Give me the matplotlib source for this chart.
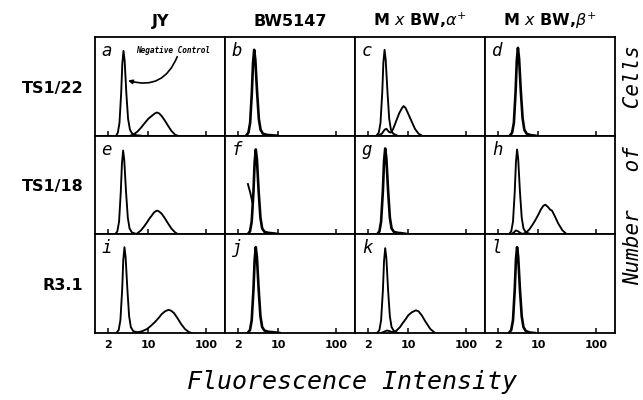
import matplotlib
matplotlib.use("Agg")
import matplotlib.pyplot as plt
from matplotlib.ticker import FixedLocator, NullLocator

COLUMNS = ["JY", "BW5147", r"M $x$ BW,$\alpha^{+}$", r"M $x$ BW,$\beta^{+}$"]
ROWS = ["TS1/22", "TS1/18", "R3.1"]
LETTERS = ["a", "b", "c", "d", "e", "f", "g", "h", "i", "j", "k", "l"]
XTICKS = [2, 10, 100]
XTICK_LABELS = ["2", "10", "100"]

# negative control peaks (fluorescence, relative cell count)
A_NEG_X = [2.8, 3.0, 3.2, 3.42, 3.58, 3.75, 3.93, 4.2, 4.5, 4.85, 5.3, 6.2, 7.5]
A_NEG_Y = [0, 0.03, 0.13, 0.43, 0.73, 0.86, 0.76, 0.43, 0.17, 0.06, 0.02, 0.005, 0]
B_NEG_X = [2.79, 3.06, 3.28, 3.51, 3.68, 3.85, 4.03, 4.32, 4.63, 4.96, 5.44, 6.4, 7.7, 9.5]
B_NEG_Y = [0, 0.03, 0.13, 0.44, 0.74, 0.87, 0.77, 0.44, 0.17, 0.06, 0.02, 0.008, 0.004, 0]
C_NEG_X = [2.82, 3.1, 3.32, 3.56, 3.72, 3.9, 4.08, 4.38, 4.69, 5.02, 5.5, 6.5]
C_NEG_Y = [0, 0.03, 0.13, 0.44, 0.74, 0.87, 0.77, 0.44, 0.17, 0.06, 0.02, 0]
D_NEG_X = [3.22, 3.53, 3.79, 4.06, 4.25, 4.45, 4.66, 4.99, 5.35, 5.73, 6.29, 7.4, 8.9]
D_NEG_Y = [0, 0.03, 0.13, 0.45, 0.76, 0.89, 0.78, 0.45, 0.18, 0.06, 0.02, 0.005, 0]
E_NEG_X = [2.68, 2.94, 3.15, 3.37, 3.53, 3.7, 3.87, 4.15, 4.45, 4.77, 5.23, 6.1, 7.0]
E_NEG_Y = [0, 0.03, 0.13, 0.43, 0.72, 0.85, 0.75, 0.43, 0.17, 0.06, 0.02, 0.005, 0]
F_NEG_X = [2.97, 3.26, 3.49, 3.74, 3.92, 4.1, 4.29, 4.6, 4.93, 5.28, 5.79, 6.8, 8.2, 10.8]
F_NEG_Y = [0, 0.03, 0.13, 0.43, 0.73, 0.86, 0.76, 0.43, 0.17, 0.06, 0.025, 0.015, 0.01, 0]
G_NEG_X = [2.9, 3.18, 3.4, 3.65, 3.82, 4.0, 4.19, 4.49, 4.81, 5.15, 5.65, 6.6, 8.0, 10.2]
G_NEG_Y = [0, 0.03, 0.13, 0.44, 0.74, 0.87, 0.77, 0.44, 0.17, 0.06, 0.025, 0.015, 0.01, 0]
H_NEG_X = [3.11, 3.41, 3.66, 3.92, 4.11, 4.3, 4.5, 4.82, 5.17, 5.54, 6.08, 7.1, 8.6]
H_NEG_Y = [0, 0.03, 0.13, 0.43, 0.73, 0.86, 0.76, 0.43, 0.17, 0.06, 0.02, 0.005, 0]
I_NEG_X = [2.82, 3.1, 3.32, 3.56, 3.72, 3.9, 4.08, 4.38, 4.69, 5.02, 5.5, 6.5, 8.0]
I_NEG_Y = [0, 0.03, 0.13, 0.44, 0.74, 0.87, 0.77, 0.44, 0.17, 0.06, 0.02, 0.005, 0]
J_NEG_X = [2.97, 3.26, 3.49, 3.74, 3.92, 4.1, 4.29, 4.6, 4.93, 5.28, 5.79, 6.8, 8.2, 10.5]
J_NEG_Y = [0, 0.03, 0.13, 0.44, 0.74, 0.87, 0.77, 0.44, 0.17, 0.06, 0.025, 0.012, 0.008, 0]
K_NEG_X = [2.9, 3.18, 3.4, 3.65, 3.82, 4.0, 4.19, 4.49, 4.81, 5.15, 5.65, 6.6]
K_NEG_Y = [0, 0.03, 0.13, 0.43, 0.73, 0.86, 0.76, 0.43, 0.17, 0.06, 0.02, 0]
L_NEG_X = [3.11, 3.41, 3.66, 3.92, 4.11, 4.3, 4.5, 4.82, 5.17, 5.54, 6.08, 7.1, 8.6]
L_NEG_Y = [0, 0.03, 0.13, 0.44, 0.74, 0.87, 0.77, 0.44, 0.17, 0.06, 0.02, 0.005, 0]

# antibody stained populations
A_POS_X = [4.9, 5.5, 6.5, 7.5, 8.5, 10, 11.5, 13, 14.1, 15.5, 17, 19, 22, 25, 29, 32]
A_POS_Y = [0, 0.01, 0.04, 0.08, 0.12, 0.17, 0.2, 0.225, 0.235, 0.225, 0.2, 0.16, 0.1, 0.05, 0.01, 0]
C_POS_X = [3.0, 3.5, 3.9, 4.2, 4.6, 5.0, 5.5, 6.2, 7.0, 7.8, 8.3, 9.0, 10, 11.5, 13, 15, 17.2]
C_POS_Y = [0, 0.02, 0.06, 0.07, 0.04, 0.03, 0.07, 0.15, 0.23, 0.28, 0.30, 0.28, 0.22, 0.14, 0.07, 0.02, 0]
E_POS_X = [6.0, 6.5, 7.5, 8.5, 9.5, 10.5, 11.5, 12.5, 13.5, 14.5, 15.5, 17, 19, 22, 25, 29, 33]
E_POS_Y = [0, 0.01, 0.04, 0.08, 0.12, 0.16, 0.19, 0.22, 0.235, 0.24, 0.23, 0.21, 0.17, 0.11, 0.06, 0.02, 0]
F_POS_X = [3.0, 3.3, 3.6]
F_POS_Y = [0.51, 0.42, 0.32]
H_POS_X = [3.4, 3.8, 4.1, 4.5, 5.0, 5.5, 6.2, 7.0, 8.0, 9.0, 10, 11, 12.2, 13.2, 14.5, 16, 17.2, 19, 22, 26, 31]
H_POS_Y = [0, 0.02, 0.04, 0.03, 0.01, 0.005, 0.02, 0.05, 0.1, 0.15, 0.2, 0.25, 0.29, 0.30, 0.28, 0.25, 0.24, 0.19, 0.11, 0.04, 0]
I_POS_X = [6.0, 7.0, 8.0, 9.5, 11, 13, 15, 17, 19.5, 22.4, 25, 28, 32, 37, 43, 50, 56]
I_POS_Y = [0.005, 0.01, 0.02, 0.04, 0.07, 0.11, 0.15, 0.19, 0.22, 0.235, 0.225, 0.2, 0.15, 0.09, 0.04, 0.01, 0]
K_POS_X = [3.4, 3.9, 4.3, 4.7, 5.2, 5.8, 6.4, 7.2, 8.0, 9.0, 10, 11.5, 13.5, 15, 17, 20, 24, 29]
K_POS_Y = [0, 0.015, 0.025, 0.02, 0.01, 0.01, 0.03, 0.06, 0.1, 0.14, 0.18, 0.21, 0.23, 0.22, 0.18, 0.11, 0.04, 0]

NEG = [(A_NEG_X, A_NEG_Y), (B_NEG_X, B_NEG_Y), (C_NEG_X, C_NEG_Y), (D_NEG_X, D_NEG_Y),
       (E_NEG_X, E_NEG_Y), (F_NEG_X, F_NEG_Y), (G_NEG_X, G_NEG_Y), (H_NEG_X, H_NEG_Y),
       (I_NEG_X, I_NEG_Y), (J_NEG_X, J_NEG_Y), (K_NEG_X, K_NEG_Y), (L_NEG_X, L_NEG_Y)]
POS = {0: (A_POS_X, A_POS_Y), 2: (C_POS_X, C_POS_Y), 4: (E_POS_X, E_POS_Y), 5: (F_POS_X, F_POS_Y),
       7: (H_POS_X, H_POS_Y), 8: (I_POS_X, I_POS_Y), 10: (K_POS_X, K_POS_Y)}

MONO = "DejaVu Sans Mono"

fig = plt.figure(figsize=(6.43, 4.0), dpi=100)
axes = fig.subplots(3, 4, sharex=True, sharey=True)
fig.subplots_adjust(left=0.148, right=0.957, top=0.9075, bottom=0.1675, wspace=0, hspace=0)

for idx, ax in enumerate(axes.flat):
    r, c = divmod(idx, 4)
    nx, ny = NEG[idx]
    # stained and control curves coincide in some panels -> heavier trace
    lw = 1.35 if idx in POS and idx != 5 else 1.9
    ax.plot(nx, ny, color="black", lw=lw, solid_joinstyle="round")
    if idx in POS:
        px, py = POS[idx]
        ax.plot(px, py, color="black", lw=1.35, solid_joinstyle="round")
    ax.set_xscale("log")
    ax.set_xlim(1.22, 212)
    ax.set_ylim(0, 1)
    ax.xaxis.set_major_locator(FixedLocator(XTICKS))
    ax.xaxis.set_minor_locator(NullLocator())
    ax.yaxis.set_major_locator(NullLocator())
    ax.tick_params(axis="x", direction="in", length=3.5, width=1.1, bottom=True, top=False,
                   labelbottom=(r == 2), pad=5)
    for sp in ax.spines.values():
        sp.set_linewidth(1.3)
    ax.text(0.05, 0.95, LETTERS[idx], transform=ax.transAxes, ha="left", va="top",
            fontsize=12.5, fontstyle="italic", family=MONO)
    if r == 0:
        ax.set_title(COLUMNS[c], fontsize=11.5, fontweight="bold", pad=8)
    if c == 0:
        ax.text(-0.09, 0.48, ROWS[r], transform=ax.transAxes, ha="right", va="center",
                fontsize=11.5, fontweight="bold")

for ax in axes[2]:
    ax.set_xticks(XTICKS)
    ax.set_xticklabels(XTICK_LABELS, fontsize=8, fontweight="bold")

ax_a = axes[0, 0]
ax_a.text(0.6, 0.86, "Negative Control", transform=ax_a.transAxes, ha="center", va="center",
          fontsize=5.6, fontweight="bold", fontstyle="italic", family=MONO)
ax_a.annotate("", xy=(4.5, 0.56), xytext=(31.6, 0.80),
              arrowprops=dict(arrowstyle="-|>", color="black", lw=1.2, mutation_scale=6,
                              connectionstyle="arc3,rad=-0.45", shrinkA=0, shrinkB=0))

fig.text(0.547, 0.045, "Fluorescence Intensity", ha="center", va="center",
         fontsize=18, fontstyle="italic", family=MONO)
fig.text(0.984, 0.5875, "Number   of   Cells", ha="center", va="center", rotation=90,
         fontsize=15, fontstyle="italic", family=MONO)

fig.savefig("out.png", dpi=100)
